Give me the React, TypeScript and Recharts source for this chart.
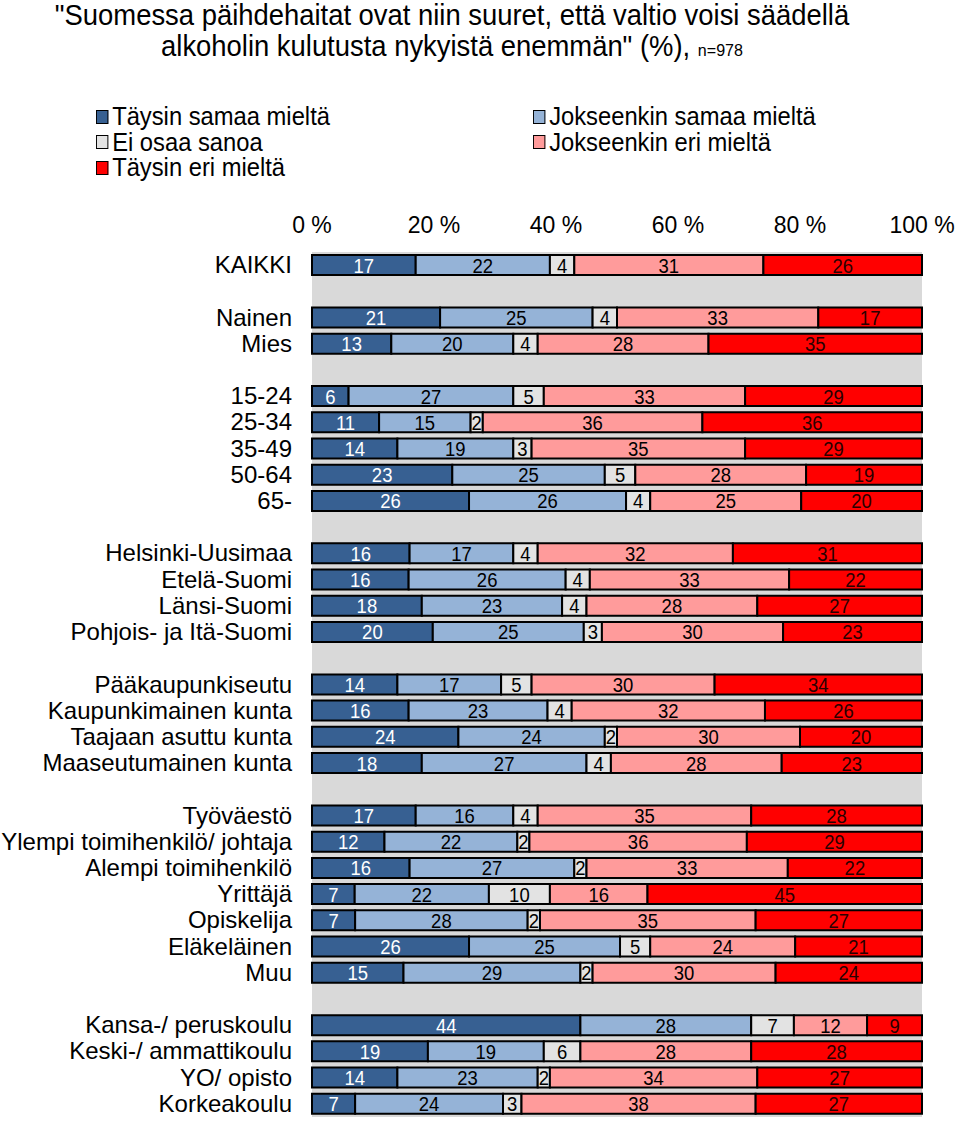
import React from "react"
import { BarChart, Bar, XAxis, YAxis, CartesianGrid, LabelList } from "recharts"

const categories = [
  "KAIKKI", "",
  "Nainen", "Mies", "",
  "15-24", "25-34", "35-49", "50-64", "65-", "",
  "Helsinki-Uusimaa", "Etelä-Suomi", "Länsi-Suomi", "Pohjois- ja Itä-Suomi", "",
  "Pääkaupunkiseutu", "Kaupunkimainen kunta", "Taajaan asuttu kunta", "Maaseutumainen kunta", "",
  "Työväestö", "Ylempi toimihenkilö/ johtaja", "Alempi toimihenkilö", "Yrittäjä", "Opiskelija", "Eläkeläinen", "Muu", "",
  "Kansa-/ peruskoulu", "Keski-/ ammattikoulu", "YO/ opisto", "Korkeakoulu",
]

const taysinSamaa = [17, null, 21, 13, null, 6, 11, 14, 23, 26, null, 16, 16, 18, 20, null, 14, 16, 24, 18, null, 17, 12, 16, 7, 7, 26, 15, null, 44, 19, 14, 7]
const jokseenkinSamaa = [22, null, 25, 20, null, 27, 15, 19, 25, 26, null, 17, 26, 23, 25, null, 17, 23, 24, 27, null, 16, 22, 27, 22, 28, 25, 29, null, 28, 19, 23, 24]
const eiOsaa = [4, null, 4, 4, null, 5, 2, 3, 5, 4, null, 4, 4, 4, 3, null, 5, 4, 2, 4, null, 4, 2, 2, 10, 2, 5, 2, null, 7, 6, 2, 3]
const jokseenkinEri = [31, null, 33, 28, null, 33, 36, 35, 28, 25, null, 32, 33, 28, 30, null, 30, 32, 30, 28, null, 35, 36, 33, 16, 35, 24, 30, null, 12, 28, 34, 38]
const taysinEri = [26, null, 17, 35, null, 29, 36, 29, 19, 20, null, 31, 22, 27, 23, null, 34, 26, 20, 23, null, 28, 29, 22, 45, 27, 21, 24, null, 9, 28, 27, 27]

const xTicks = [0, 0.2, 0.4, 0.6, 0.8, 1]

const series = [
  { key: "ts", name: "Täysin samaa mieltä", color: "#376092", text: "#ffffff" },
  { key: "js", name: "Jokseenkin samaa mieltä", color: "#95B3D7", text: "#000000" },
  { key: "eo", name: "Ei osaa sanoa", color: "#E3E3E3", text: "#000000" },
  { key: "je", name: "Jokseenkin eri mieltä", color: "#FF9B9B", text: "#000000" },
  { key: "te", name: "Täysin eri mieltä", color: "#FF0000", text: "#2a0000" },
]

const data = categories.map((label, i) => ({
  id: "r" + i,
  label,
  ts: taysinSamaa[i],
  js: jokseenkinSamaa[i],
  eo: eiOsaa[i],
  je: jokseenkinEri[i],
  te: taysinEri[i],
}))

const font = "'Liberation Sans', Arial, sans-serif"

function CategoryTick(props: any) {
  const { x, y, payload } = props
  const row = data.find((d) => d.id === payload.value)
  return (
    <text x={x - 12} y={y} dy={8} textAnchor="end" fontFamily={font} fontSize={24} fill="#000">
      {row ? row.label : ""}
    </text>
  )
}

function PercentTick(props: any) {
  const { x, y, payload } = props
  return (
    <text x={x} y={y} dy={-11} textAnchor="middle" fontFamily={font} fontSize={23} fill="#000">
      {Math.round(payload.value * 100) + " %"}
    </text>
  )
}

function makeLabel(fill: string) {
  return (props: any) => {
    const { x, y, width, height, value } = props
    if (value == null) return null
    return (
      <text
        transform={`translate(${x + width / 2},${y + height / 2}) scale(0.88,1)`}
        dy={7.5}
        textAnchor="middle"
        fontFamily={font}
        fontSize={21}
        fill={fill}
      >
        {value}
      </text>
    )
  }
}

export default function App() {
  return (
    <div style={{ position: "absolute", left: 0, top: 0, width: 960, height: 1122, background: "#fff" }}>
      <div
        style={{
          position: "absolute",
          left: 0,
          top: 0,
          width: 904,
          textAlign: "center",
          fontFamily: font,
          fontSize: 29,
          lineHeight: "31px",
          color: "#000",
          transform: "scaleX(0.945)",
          transformOrigin: "452px 0",
        }}
      >
        "Suomessa päihdehaitat ovat niin suuret, että valtio voisi säädellä
        <br />
        alkoholin kulutusta nykyistä enemmän" (%), <span style={{ fontSize: 17 }}>n=978</span>
      </div>
      <div
        style={{
          position: "absolute",
          left: 96,
          top: 104,
          width: 840,
          display: "grid",
          gridTemplateColumns: "460px 380px",
          fontFamily: font,
          fontSize: 25,
          lineHeight: "25.5px",
          transform: "scaleX(0.95)",
          transformOrigin: "0 0",
        }}
      >
        {series.map((s) => (
          <div key={s.key} style={{ display: "flex", alignItems: "center" }}>
            <span
              style={{
                display: "inline-block",
                width: 11,
                height: 12,
                background: s.color,
                border: "1.5px solid #000",
                marginRight: 4,
              }}
            />
            {s.name}
          </div>
        ))}
      </div>
      <div style={{ position: "absolute", left: 0, top: 0 }}>
        <BarChart
          width={960}
          height={1122}
          data={data}
          layout="vertical"
          stackOffset="expand"
          barSize={20}
          margin={{ top: 212, right: 38, bottom: 5, left: 0 }}
        >
          <CartesianGrid horizontal={false} vertical={false} fill="#D9D9D9" />
          <XAxis
            type="number"
            orientation="top"
            height={40}
            domain={[0, 1]}
            ticks={xTicks}
            axisLine={false}
            tickLine={false}
            tick={<PercentTick />}
            interval={0}
          />
          <YAxis
            type="category"
            dataKey="id"
            width={312}
            axisLine={false}
            tickLine={false}
            interval={0}
            tick={<CategoryTick />}
          />
          {series.map((s) => (
            <Bar
              key={s.key}
              dataKey={s.key}
              name={s.name}
              stackId="a"
              fill={s.color}
              stroke="#000"
              strokeWidth={2}
              isAnimationActive={false}
            >
              <LabelList dataKey={s.key} content={makeLabel(s.text)} />
            </Bar>
          ))}
        </BarChart>
      </div>
    </div>
  )
}
